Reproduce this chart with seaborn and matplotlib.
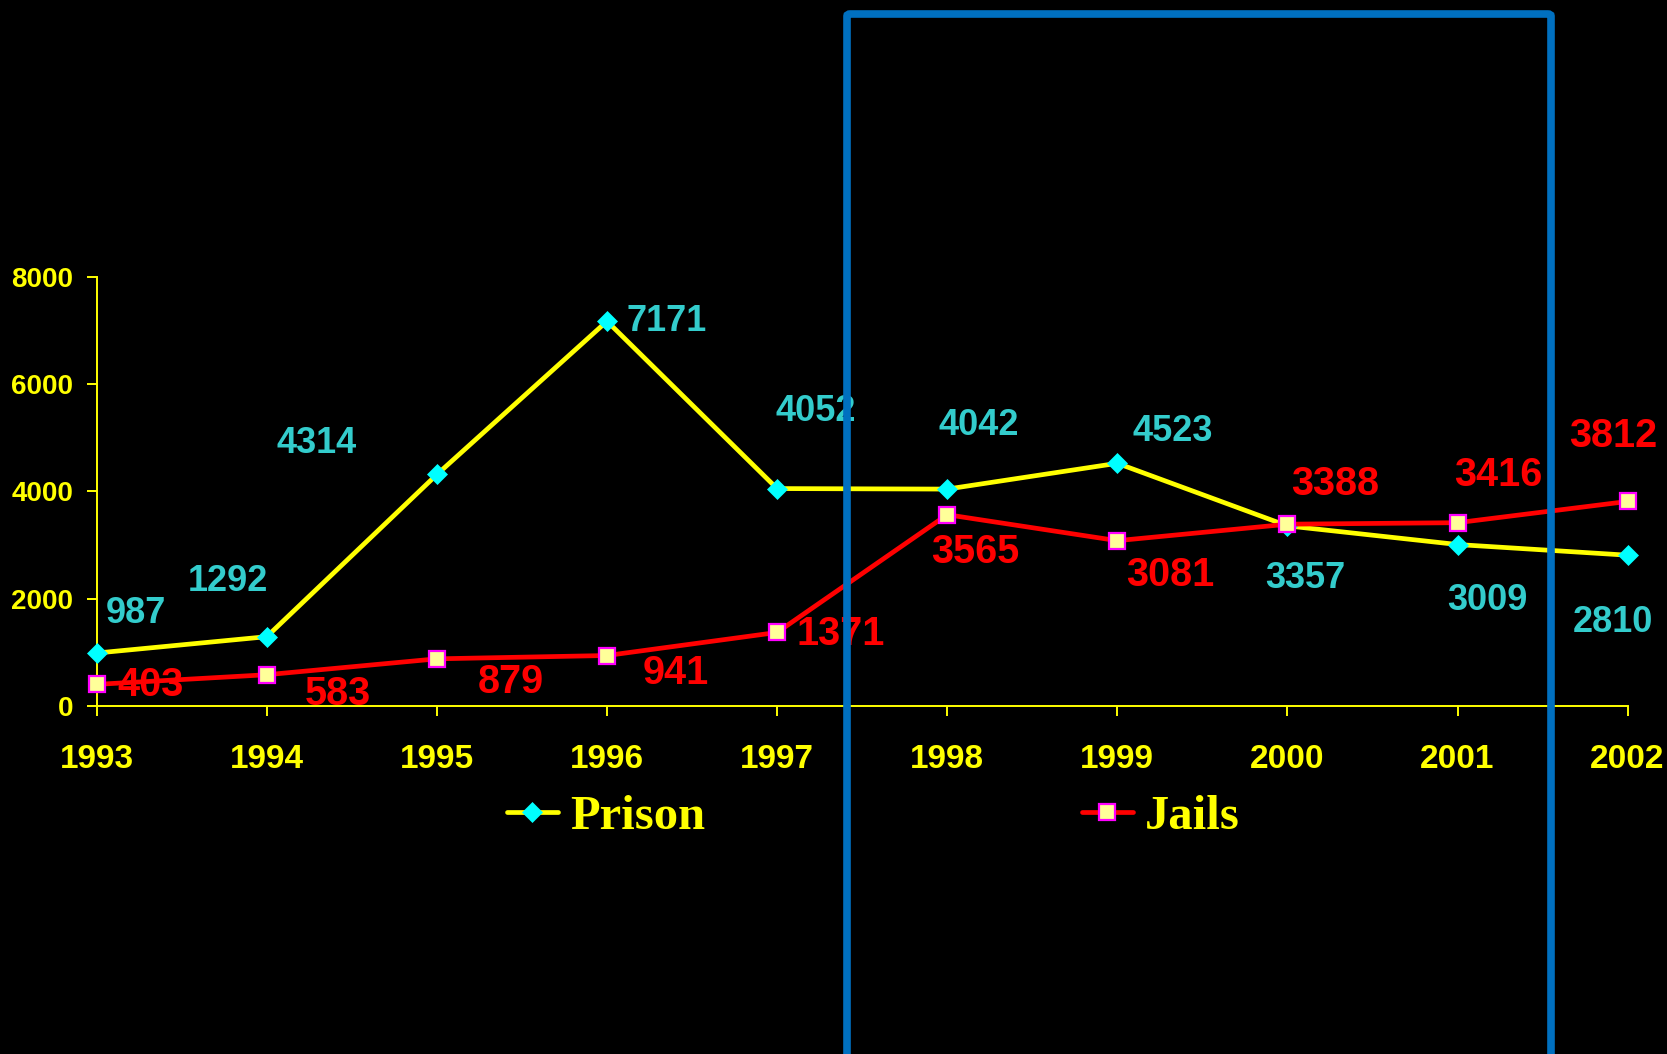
import matplotlib
matplotlib.use("Agg")
import matplotlib.pyplot as plt
import matplotlib.patches as mpatches
import seaborn as sns
import pandas as pd

# Yearly counts
years = [1993, 1994, 1995, 1996, 1997, 1998, 1999, 2000, 2001, 2002]
prison = [987, 1292, 4314, 7171, 4052, 4042, 4523, 3357, 3009, 2810]
jails = [403, 583, 879, 941, 1371, 3565, 3081, 3388, 3416, 3812]
y_ticks = [0, 2000, 4000, 6000, 8000]

# Value label offsets (pixels) from each point
prison_offsets = [(39, 40), (-39, 55), (-120, 31), (60, 0), (39, 77),
                  (32, 64), (55, 32), (18, -53), (30, -56), (-15, -67)]
jails_offsets = [(54, -1), (71, -19), (74, -23), (69, -17), (64, -2),
                 (28, -37), (53, -34), (48, 40), (41, 48), (-14, 65)]

df = pd.DataFrame({"year": years, "Prison": prison, "Jails": jails})

sns.set_theme(style="white")
plt.rcParams["font.family"] = ["Liberation Sans", "DejaVu Sans"]

W, H = 1667, 1054
fig = plt.figure(figsize=(W / 100, H / 100), dpi=100, facecolor="black")
ax = fig.add_axes([96.7 / W, 1 - 706 / H, (1627.6 - 96.7) / W, (706 - 276.7) / H])
ax.set_facecolor("black")

sns.lineplot(data=df, x="year", y="Prison", ax=ax, color="#FFFF00", lw=3.4,
             marker="D", markersize=10.5, markerfacecolor="#00FFFF",
             markeredgecolor="#00FFFF", markeredgewidth=0.5,
             label="Prison", legend=False, clip_on=False, zorder=3)
sns.lineplot(data=df, x="year", y="Jails", ax=ax, color="#FF0000", lw=3.4,
             marker="s", markersize=12, markerfacecolor="#FFFF99",
             markeredgecolor="#FF00FF", markeredgewidth=1.6,
             label="Jails", legend=False, clip_on=False, zorder=4)

ax.set_xlim(1993, 2002)
ax.set_ylim(0, 8000)
ax.set_xticks(years)
ax.set_xticklabels([str(y) for y in years])
ax.set_yticks(y_ticks)
ax.set_yticklabels([str(t) for t in y_ticks])
ax.set_xlabel("")
ax.set_ylabel("")
ax.grid(False)

for side in ("top", "right"):
    ax.spines[side].set_visible(False)
for side in ("left", "bottom"):
    ax.spines[side].set_color("#FFFF00")
    ax.spines[side].set_linewidth(1.4)

ax.tick_params(axis="both", which="major", direction="out", color="#FFFF00",
               width=1.4, length=7, labelcolor="#FFFF00",
               left=True, bottom=True)
ax.tick_params(axis="x", pad=20, labelsize=24)
ax.tick_params(axis="y", pad=10, labelsize=20)
for lab in ax.get_xticklabels() + ax.get_yticklabels():
    lab.set_fontweight("bold")

# Value labels
for x, v, (dx, dy) in zip(years, prison, prison_offsets):
    ax.annotate(str(v), (x, v), xytext=(dx, dy), textcoords="offset pixels",
                ha="center", va="center", color="#33CCCC", fontsize=26,
                fontweight="bold", annotation_clip=False, zorder=5)
for x, v, (dx, dy) in zip(years, jails, jails_offsets):
    ax.annotate(str(v), (x, v), xytext=(dx, dy), textcoords="offset pixels",
                ha="center", va="center", color="#FF0000", fontsize=28.5,
                fontweight="bold", annotation_clip=False, zorder=5)

# Legend entries placed under the axis
line_prison, line_jails = ax.lines[0], ax.lines[1]
leg_kw = dict(frameon=False, handlelength=1.05, handletextpad=0.25,
              borderpad=0, borderaxespad=0, labelcolor="#FFFF00",
              prop={"family": "Liberation Serif", "weight": "bold", "size": 35},
              loc="center left", bbox_transform=fig.transFigure)
leg1 = ax.legend(handles=[line_prison], labels=["Prison"],
                 bbox_to_anchor=(506.7 / W, 1 - 817 / H), **leg_kw)
ax.add_artist(leg1)
ax.legend(handles=[line_jails], labels=["Jails"],
          bbox_to_anchor=(1081.7 / W, 1 - 817 / H), **leg_kw)

# Highlight frame over the later years
rect = mpatches.FancyBboxPatch((847 / W, -0.05), (1551 - 847) / W, (1 - 14 / H) + 0.05,
                               boxstyle="round,pad=0,rounding_size=0.002",
                               transform=fig.transFigure, fill=False,
                               edgecolor="#0070C0", linewidth=5.5, zorder=10)
fig.patches.append(rect)

fig.savefig("out.png", dpi=100, facecolor="black")
